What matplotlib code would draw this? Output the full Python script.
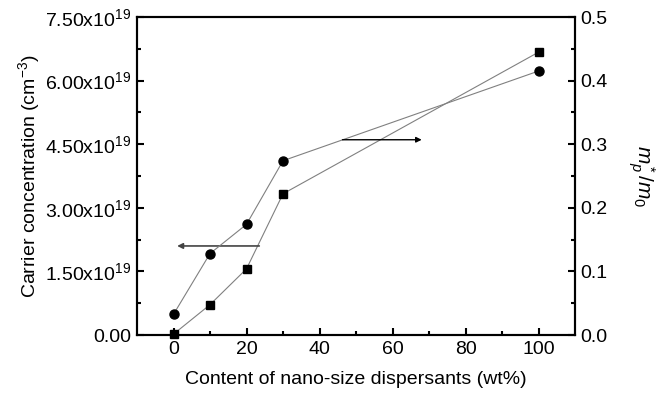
import numpy as np
import matplotlib
matplotlib.use('Agg')
import matplotlib.pyplot as plt
from matplotlib.ticker import FixedLocator, MultipleLocator

plt.rcParams['font.family'] = ['Liberation Sans', 'DejaVu Sans']
plt.rcParams['mathtext.fontset'] = 'custom'
plt.rcParams['mathtext.it'] = 'Liberation Sans:italic'
plt.rcParams['mathtext.rm'] = 'Liberation Sans'

# data
content = [0, 10, 20, 30, 100]
carrier = [0.02e19, 0.715e19, 1.56e19, 3.33e19, 6.67e19]   # squares, left axis
mass = [0.0325, 0.128, 0.174, 0.274, 0.415]                # circles, right axis

left_ticks = [0, 1.5e19, 3.0e19, 4.5e19, 6.0e19, 7.5e19]
left_labels = ['0.00', r'1.50x10$^{19}$', r'3.00x10$^{19}$', r'4.50x10$^{19}$',
               r'6.00x10$^{19}$', r'7.50x10$^{19}$']
right_ticks = [0, 0.1, 0.2, 0.3, 0.4, 0.5]
right_labels = ['0.0', '0.1', '0.2', '0.3', '0.4', '0.5']

fig = plt.figure(figsize=(6.67, 3.93), dpi=100)
ax = fig.add_axes([137 / 667, 1 - 335 / 393, (575 - 137) / 667, (335 - 17) / 393])
ax2 = ax.twinx()

ax.plot(content, carrier, color='#808080', lw=0.8, marker='s', ms=6,
        mfc='black', mec='black', clip_on=False, zorder=3)
ax2.plot(content, mass, color='#808080', lw=0.8, marker='o', ms=6.5,
         mfc='black', mec='black', clip_on=False, zorder=3)

# arrows showing which axis each curve belongs to
ax.annotate('', xy=(1.0, 2.1e19), xytext=(23.5, 2.1e19),
            arrowprops=dict(arrowstyle='-|>', color='#444444', lw=1.2,
                            mutation_scale=8, shrinkA=0, shrinkB=0))
ax2.annotate('', xy=(68, 0.307), xytext=(46.3, 0.307),
             arrowprops=dict(arrowstyle='-|>', color='black', lw=1.0,
                             mutation_scale=8, shrinkA=0, shrinkB=0))

ax.set_xlim(-10, 110)
ax.set_ylim(0, 7.5e19)
ax2.set_ylim(0, 0.5)

ax.xaxis.set_major_locator(FixedLocator([0, 20, 40, 60, 80, 100]))
ax.xaxis.set_minor_locator(FixedLocator([10, 30, 50, 70, 90]))
ax.set_yticks(left_ticks)
ax.set_yticklabels(left_labels)
ax.yaxis.set_minor_locator(MultipleLocator(0.75e19))
ax2.set_yticks(right_ticks)
ax2.set_yticklabels(right_labels)
ax2.yaxis.set_minor_locator(MultipleLocator(0.05))

for a in (ax, ax2):
    a.tick_params(which='major', direction='in', length=5, width=1.5,
                  labelsize=14, pad=4)
    a.tick_params(which='minor', direction='in', length=3, width=1.5)
    for s in a.spines.values():
        s.set_linewidth(1.5)
ax.tick_params(axis='both', which='both', top=False, right=False)
ax2.tick_params(axis='y', which='both', left=False, right=True)

ax.set_xlabel('Content of nano-size dispersants (wt%)', fontsize=14, labelpad=10)
ax.set_ylabel('Carrier concentration (cm$^{-3}$)', fontsize=14, labelpad=2)
ax2.set_ylabel(r'$m^*_p/m_0$', fontsize=15, rotation=270, labelpad=35)

fig.savefig('out.png', dpi=100)
